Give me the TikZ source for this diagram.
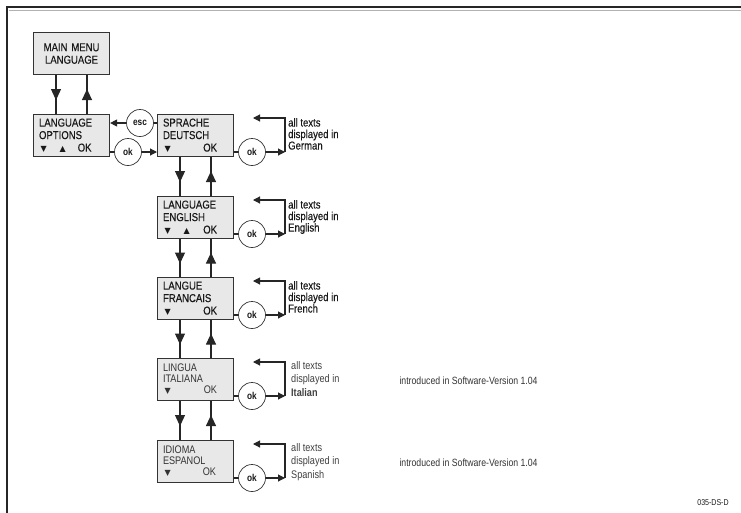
\documentclass[tikz,border=0pt]{standalone}
\usepackage{fontspec}
\setmainfont{Liberation Sans}[FakeStretch=0.83]
\newfontfamily\boxfont{Liberation Sans}[FakeStretch=0.83, FakeBold=0.35]
\newfontfamily\symfont{DejaVu Sans}
\usetikzlibrary{arrows.meta,decorations.markings}

\newcommand{\trdown}{{\symfont\fontsize{8}{8}\selectfont ▼}}
\newcommand{\trup}{{\symfont\fontsize{8}{8}\selectfont ▲}}

\tikzset{
  menubox/.style={draw=black!80, fill=black!9, line width=1.1pt, anchor=north west,
    minimum width=76pt, minimum height=42pt, inner xsep=5.5pt, text width=65pt,
    align=left, text=black!90, font=\boxfont\fontsize{11.5}{12.5}\selectfont},
  newbox/.style={menubox, font=\fontsize{11}{11}\selectfont, text=black!80},
  keyc/.style={circle, draw=black!80, fill=white, line width=0.7pt, minimum size=27pt,
    inner sep=0pt, text=black!90, font=\bfseries\fontsize{10}{10}\selectfont},
  conn/.style={draw=black!85, line width=1.1pt},
  arrowend/.style={-{Triangle[width=7pt,length=7pt]}},
  midarrow/.style={postaction={decorate}, decoration={markings,
    mark=at position 0.5*\pgfdecoratedpathlength+5.5pt with {\arrow{Triangle[width=10pt,length=11pt]}}}},
  note/.style={anchor=north west, inner sep=0pt, align=left, text=black!90,
    font=\boxfont\fontsize{11.5}{11.5}\selectfont},
  newnote/.style={note, text=black!75, font=\fontsize{11}{13.5}\selectfont},
}

\begin{document}
\begin{tikzpicture}[x=1pt, y=-1pt]
    \useasboundingbox (0,0) rectangle (741,512);

    % Draw frame
    \draw[black!30, line width=1pt] (9,10) -- (745,10);
    \draw[black!85, line width=2.5pt] (745,7) -- (7,7) -- (7,516);

    % Draw menu boxes
    \node[menubox, align=center] (mainmenu) at (33,32) {MAIN MENU\\LANGUAGE};
    \node[menubox] (langopt) at (33,114) {LANGUAGE\\OPTIONS\\\hspace*{1.5pt}\trdown\hspace{13pt}\trup\hfill OK\hspace*{12.5pt}};
    \node[menubox] (deu) at (157,114) {SPRACHE\\DEUTSCH\\\hspace*{1.5pt}\trdown\hfill OK\hspace*{11pt}};
    \node[menubox] (eng) at (157,196) {LANGUAGE\\ENGLISH\\\hspace*{1.5pt}\trdown\hspace{13pt}\trup\hfill OK\hspace*{11pt}};
    \node[menubox] (fra) at (157,277) {LANGUE\\FRANCAIS\\\hspace*{1.5pt}\trdown\hfill OK\hspace*{11pt}};
    \node[newbox] (ita) at (157,358) {LINGUA\\ITALIANA\\\hspace*{1.5pt}\trdown\hfill OK\hspace*{11pt}};
    \node[newbox] (esp) at (157,440) {IDIOMA\\ESPANOL\\\hspace*{1.5pt}\trdown\hfill OK\hspace*{12pt}};

    % Draw up and down arrows
    \draw[conn, midarrow] ([xshift=23pt]mainmenu.south west) -- ([xshift=23pt]langopt.north west);
    \draw[conn, midarrow] ([xshift=54pt]langopt.north west) -- ([xshift=54pt]mainmenu.south west);
    \draw[conn, midarrow] ([xshift=23pt]deu.south west) -- ([xshift=23pt]eng.north west);
    \draw[conn, midarrow] ([xshift=54pt]eng.north west) -- ([xshift=54pt]deu.south west);
    \draw[conn, midarrow] ([xshift=23pt]eng.south west) -- ([xshift=23pt]fra.north west);
    \draw[conn, midarrow] ([xshift=54pt]fra.north west) -- ([xshift=54pt]eng.south west);
    \draw[conn, midarrow] ([xshift=23pt]fra.south west) -- ([xshift=23pt]ita.north west);
    \draw[conn, midarrow] ([xshift=54pt]ita.north west) -- ([xshift=54pt]fra.south west);
    \draw[conn, midarrow] ([xshift=23pt]ita.south west) -- ([xshift=23pt]esp.north west);
    \draw[conn, midarrow] ([xshift=54pt]esp.north west) -- ([xshift=54pt]ita.south west);

    % Draw esc and ok keys between options and first language
    \node[keyc] (esc) at (140,123) {esc};
    \node[keyc] (okopt) at (128,152) {ok};
    \draw[conn, arrowend] (esc.west) -- (esc.west -| langopt.east);
    \draw[conn] (esc.east) -- (esc.east -| deu.west);
    \draw[conn] (okopt.west -| langopt.east) -- (okopt.west);
    \draw[conn, arrowend] (okopt.east) -- (okopt.east -| deu.west);

    % Draw ok keys and loops
    \node[keyc] (okdeu) at (252,152) {ok};
    \node[keyc] (okeng) at (252,234) {ok};
    \node[keyc] (okfra) at (252,315) {ok};
    \node[keyc] (okita) at (252,396) {ok};
    \node[keyc] (okesp) at (252,478) {ok};
    \coordinate (deuturn) at (285,152);  \coordinate (deuback) at (253,118);
    \coordinate (engturn) at (285,234);  \coordinate (engback) at (253,200);
    \coordinate (fraturn) at (285,315);  \coordinate (fraback) at (253,281);
    \coordinate (itaturn) at (285,396);  \coordinate (itaback) at (253,362);
    \coordinate (espturn) at (285,478);  \coordinate (espback) at (253,444);
    \draw[conn] (deu.east |- okdeu.west) -- (okdeu.west);
    \draw[conn, arrowend] (okdeu.east) -- (deuturn);
    \draw[conn, arrowend] (deuturn) |- (deuback);
    \draw[conn] (eng.east |- okeng.west) -- (okeng.west);
    \draw[conn, arrowend] (okeng.east) -- (engturn);
    \draw[conn, arrowend] (engturn) |- (engback);
    \draw[conn] (fra.east |- okfra.west) -- (okfra.west);
    \draw[conn, arrowend] (okfra.east) -- (fraturn);
    \draw[conn, arrowend] (fraturn) |- (fraback);
    \draw[conn] (ita.east |- okita.west) -- (okita.west);
    \draw[conn, arrowend] (okita.east) -- (itaturn);
    \draw[conn, arrowend] (itaturn) |- (itaback);
    \draw[conn] (esp.east |- okesp.west) -- (okesp.west);
    \draw[conn, arrowend] (okesp.east) -- (espturn);
    \draw[conn, arrowend] (espturn) |- (espback);

    % Draw texts
    \node[note] (txtdeu) at (288,118) {all texts\\displayed in\\German};
    \node[note] (txteng) at (288,200) {all texts\\displayed in\\English};
    \node[note] (txtfra) at (288,281) {all texts\\displayed in\\French};
    \node[newnote] (txtita) at (291,361) {all texts\\displayed in\\\textbf{Italian}};
    \node[newnote] (txtesp) at (291,443) {all texts\\displayed in\\Spanish};
    \node[anchor=west, text=black!80, font=\fontsize{10.5}{10.5}\selectfont] (verita) at (396,381) {introduced in Software-Version 1.04};
    \node[anchor=west, text=black!80, font=\fontsize{10.5}{10.5}\selectfont] (veresp) at (396,463) {introduced in Software-Version 1.04};
    \node[text=black!90, font=\fontsize{8.5}{8.5}\selectfont] (figid) at (713,503) {035-DS-D};
\end{tikzpicture}
\end{document}
